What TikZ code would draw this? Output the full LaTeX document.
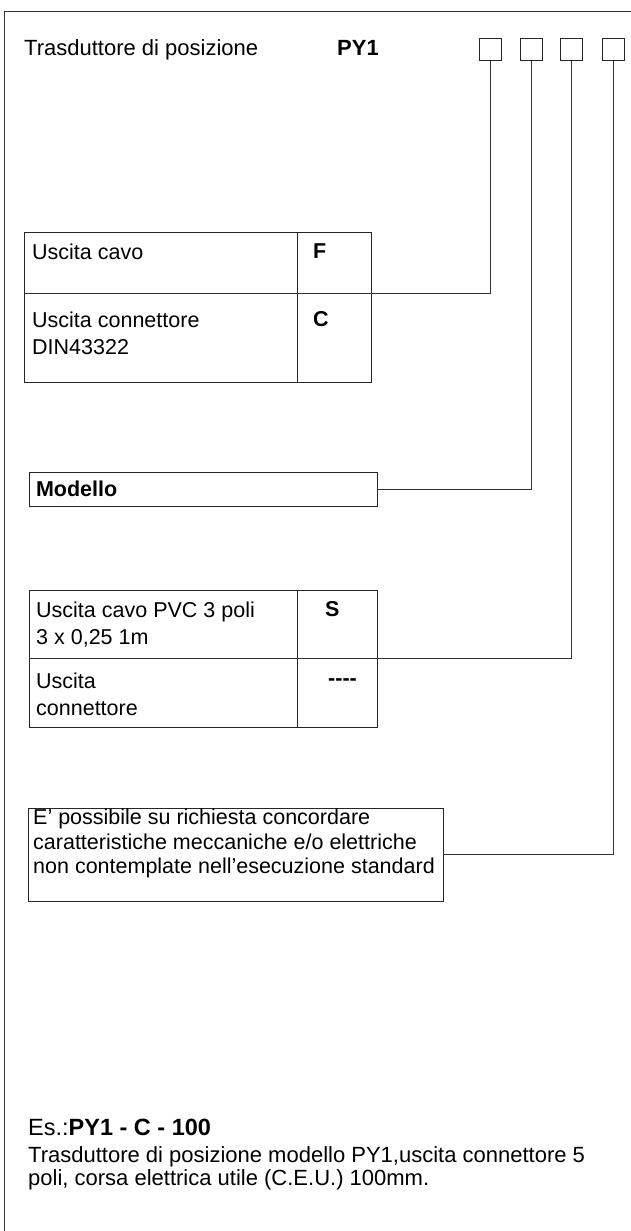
\documentclass[tikz,border=0pt]{standalone}
\usepackage{fontspec}
\setmainfont{Liberation Sans}
\usetikzlibrary{positioning}
\tikzstyle{codebox}=[rectangle,draw=black!85,line width=1pt,minimum size=22pt,inner sep=0pt]
\tikzstyle{cell}=[rectangle,draw=black!85,line width=1pt,inner sep=0pt,outer sep=0pt,anchor=north west]
\tikzstyle{keycell}=[cell,minimum width=74pt]
\tikzstyle{txt}=[inner sep=0pt,anchor=north west,align=left,font=\fontsize{21.5}{27.5}\selectfont]
\tikzstyle{key}=[txt,font=\fontsize{21.5}{27.5}\selectfont\bfseries]
\tikzstyle{wire}=[draw=black!80,line width=1pt]

\begin{document}
\begin{tikzpicture}[x=1pt,y=-1pt]
            \useasboundingbox (0,0) rectangle (631,1231);
            % FRAME
            \draw[wire] (4.5,1231) |- (631,12);

            % TITLE PART
            \node[txt,anchor=base west,font=\fontsize{22}{26}\selectfont] (title) at (24,55.5) {Trasduttore di posizione};
            \node[key,anchor=base west,font=\fontsize{22}{26}\selectfont\bfseries] (model) at (337,55.5) {PY1};
            \node[codebox] (c1) at (490.5,50) {};
            \node[codebox, right=18pt of c1] (c2) {};
            \node[codebox, right=16.5pt of c2] (c3) {};
            \node[codebox, right=19.5pt of c3] (c4) {};

            % OUTPUT PART
            \node[cell,minimum width=273pt,minimum height=61pt] (r1) at (24,232) {};
            \node[keycell,minimum height=61pt,right=0pt of r1] (k1) {};
            \node[cell,minimum width=273pt,minimum height=89pt,below=0pt of r1] (r2) {};
            \node[keycell,minimum height=89pt,right=0pt of r2] (k2) {};
            \node[txt,below right=12pt and 8pt of r1.north west] (t1) {Uscita cavo};
            \node[key,below right=12pt and 16pt of k1.north west] (f1) {F};
            \node[txt,below right=18.5pt and 8pt of r2.north west] (t2) {Uscita connettore\\DIN43322};
            \node[key,below right=18.5pt and 16pt of k2.north west] (f2) {C};

            \draw[wire] (c1.south) |- (r1.south west);

            % MODEL PART
            \node[cell,minimum width=348pt,minimum height=34pt,text width=334pt,align=left,
                  inner xsep=7pt,font=\fontsize{21.5}{27.5}\selectfont\bfseries] (mod) at (29,472) {Modello};

            \draw[wire] (c2.south) |- (mod.east);

            % CABLE PART
            \node[cell,minimum width=268pt,minimum height=68pt] (r3) at (29,590) {};
            \node[keycell,minimum width=80pt,minimum height=68pt,right=0pt of r3] (k3) {};
            \node[cell,minimum width=268pt,minimum height=69pt,below=0pt of r3] (r4) {};
            \node[keycell,minimum width=80pt,minimum height=69pt,right=0pt of r4] (k4) {};
            \node[txt,below right=11.5pt and 7pt of r3.north west] (t3) {Uscita cavo PVC 3 poli\\3 x 0,25 1m};
            \node[key,below right=11.5pt and 28pt of k3.north west] (f3) {S};
            \node[txt,below right=14.5pt and 7pt of r4.north west] (t4) {Uscita\\connettore};
            \node[key,below right=20pt and 31pt of k4.north west] (f4) {-{}-{}-{}-};

            \draw[wire] (c3.south) |- (r3.south west);

            % SPECIAL PART
            \node[cell,minimum width=415pt,minimum height=93pt] (note) at (28,808) {};
            \node[txt,below right=1pt and 5pt of note.north west,font=\fontsize{21.5}{24.5}\selectfont] (t5)
                 {E' possibile su richiesta concordare\\caratteristiche meccaniche e/o elettriche\\non contemplate nell'esecuzione standard};

            \draw[wire] (c4.south) |- (note.east);

            % EXAMPLE PART
            \node[txt,anchor=base west,font=\fontsize{23.5}{28}\selectfont] (ex) at (28,1135) {Es.:\textbf{PY1 - C - 100}};
            \node[txt,below right=11pt and 0pt of ex.south west,font=\fontsize{22}{23}\selectfont] (desc)
                 {Trasduttore di posizione modello PY1,uscita connettore 5\\poli, corsa elettrica utile (C.E.U.) 100mm.};
\end{tikzpicture}
\end{document}
